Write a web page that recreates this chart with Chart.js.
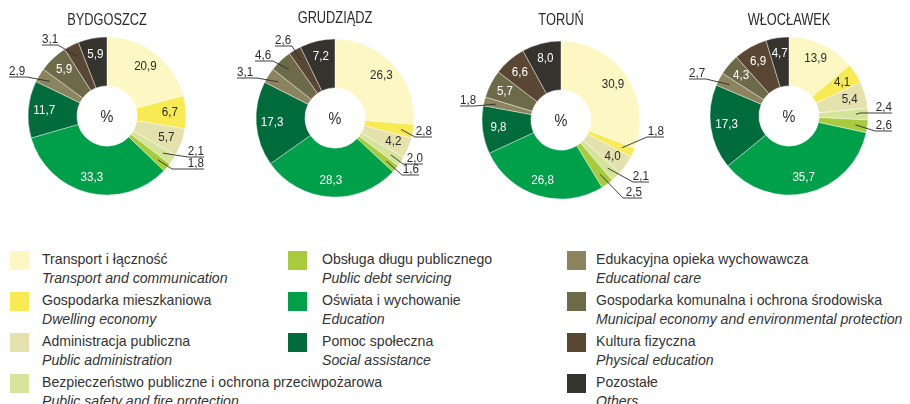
<!DOCTYPE html>
<html>
<head>
<meta charset="utf-8">
<script src="https://cdn.jsdelivr.net/npm/chart.js@4.4.0/dist/chart.umd.min.js"></script>
<style>
  body { margin: 0; width: 910px; height: 404px; overflow: hidden; background: #fff; position: relative;
         font-family: "Liberation Sans", Arial, sans-serif; color: #333; }
  .pie { position: absolute; top: 0; }
  .sw { position: absolute; width: 19px; height: 19px; }
  .lbl { position: absolute; font-size: 15px; line-height: 19px; white-space: nowrap; color: #333;
         transform: scaleX(0.94); transform-origin: 0 0; }
  .lbl i { display: block; }
</style>
</head>
<body>
<script>
const FONT = '"Liberation Sans", Arial, sans-serif';

// wydatki wg działów, %
const categoriesPl = ['Transport i łączność', 'Gospodarka mieszkaniowa', 'Administracja publiczna',
  'Bezpieczeństwo publiczne i ochrona przeciwpożarowa', 'Obsługa długu publicznego', 'Oświata i wychowanie',
  'Pomoc społeczna', 'Edukacyjna opieka wychowawcza', 'Gospodarka komunalna i ochrona środowiska',
  'Kultura fizyczna', 'Pozostałe'];
const categoriesEn = ['Transport and communication', 'Dwelling economy', 'Public administration',
  'Public safety and fire protection', 'Public debt servicing', 'Education', 'Social assistance',
  'Educational care', 'Municipal economy and environmental protection', 'Physical education', 'Others'];
const colors = ['#fdf7c4', '#f7ea52', '#e5e1ad', '#d5e49a', '#a8cb3e', '#009f4a', '#006b3b',
  '#8b845e', '#6c6a48', '#5a4733', '#35332e'];

const cities = ['BYDGOSZCZ', 'GRUDZIĄDZ', 'TORUŃ', 'WŁOCŁAWEK'];
const bydgoszcz = [20.9, 6.7, 5.7, 2.1, 1.8, 33.3, 11.7, 2.9, 5.9, 3.1, 5.9];
const grudziadz = [26.3, 2.8, 4.2, 2.0, 1.6, 28.3, 17.3, 3.1, 4.6, 2.6, 7.2];
const torun     = [30.9, 1.8, 4.0, 2.1, 2.5, 26.8, 9.8, 1.8, 5.7, 6.6, 8.0];
const wloclawek = [13.9, 4.1, 5.4, 2.4, 2.6, 35.7, 17.3, 2.7, 4.3, 6.9, 4.7];

// center of each ring, title baseline, and leader lines for the thin slices:
// index -> [elbow dx, elbow dy, end of underline dx] relative to the center
const pies = [
  { data: bydgoszcz, cx: 107, cy: 116, ty: 25,
    callouts: { 3: [81, 41, 97], 4: [65, 53, 97], 7: [-80, -39, -98], 9: [-49, -71, -65] } },
  { data: grudziadz, cx: 335, cy: 118, ty: 23,
    callouts: { 1: [80, 19, 97], 3: [68, 46, 88], 4: [67, 57, 84], 7: [-78, -40, -98], 8: [-62, -57, -80], 9: [-43, -72, -60] } },
  { data: torun, cx: 561, cy: 120, ty: 25,
    callouts: { 1: [86, 17, 103], 3: [72, 62, 88], 4: [62, 78, 81], 7: [-86, -14, -101] } },
  { data: wloclawek, cx: 789, cy: 116, ty: 25,
    callouts: { 3: [71, -3, 103], 4: [86, 15, 103], 7: [-83, -37, -100] } }
];

const R = 79, HOLE = 30, W = 230, H = 212;

const fmt = v => v.toFixed(1).replace('.', ',');

// condensed-looking text: squeeze horizontally around the anchor
function narrowText(ctx, txt, x, y, align, sx) {
  const w = ctx.measureText(txt).width * sx;
  const left = align === 'center' ? x - w / 2 : align === 'right' ? x - w : x;
  ctx.save();
  ctx.translate(left, y);
  ctx.scale(sx, 1);
  ctx.textAlign = 'left';
  ctx.fillText(txt, 0, 0);
  ctx.restore();
}

const pieLabels = {
  id: 'pieLabels',
  afterDatasetsDraw(chart, args, opts) {
    const ctx = chart.ctx;
    const meta = chart.getDatasetMeta(0);
    const values = chart.data.datasets[0].data;
    const cx = meta.data[0].x, cy = meta.data[0].y;
    ctx.save();
    ctx.fillStyle = '#2b2b2b';
    ctx.textBaseline = 'alphabetic';
    ctx.font = '16px ' + FONT;
    narrowText(ctx, opts.title, cx, opts.ty, 'center', 0.8);
    ctx.font = '17px ' + FONT;
    narrowText(ctx, '%', cx, cy + 6, 'center', 0.85);

    ctx.font = '12.5px ' + FONT;
    meta.data.forEach((arc, i) => {
      const p = arc.getProps(['startAngle', 'endAngle', 'outerRadius'], true);
      const mid = (p.startAngle + p.endAngle) / 2;
      const c = opts.callouts[i];
      if (c) {
        const ar = p.outerRadius - 12;
        const ax = cx + ar * Math.cos(mid), ay = cy + ar * Math.sin(mid);
        const ex = cx + c[0], ey = cy + c[1], x2 = cx + c[2];
        ctx.strokeStyle = '#2b2b2b';
        ctx.lineWidth = 0.9;
        ctx.beginPath();
        ctx.moveTo(ax, ay);
        ctx.lineTo(ex, ey);
        ctx.lineTo(x2, ey);
        ctx.stroke();
        ctx.fillStyle = '#2b2b2b';
        ctx.textBaseline = 'alphabetic';
        narrowText(ctx, fmt(values[i]), x2, ey - 2.5, x2 > ex ? 'right' : 'left', 0.93);
      } else {
        const r = 63;
        ctx.fillStyle = i < 5 ? '#2b2b2b' : '#ffffff';
        ctx.textBaseline = 'middle';
        narrowText(ctx, fmt(values[i]), cx + r * Math.cos(mid), cy + r * Math.sin(mid), 'center', 0.93);
      }
    });
    ctx.restore();
  }
};

pies.forEach((pie, k) => {
  const cv = document.createElement('canvas');
  cv.className = 'pie';
  cv.width = W;
  cv.height = H;
  cv.style.left = (pie.cx - W / 2) + 'px';
  document.body.appendChild(cv);

  new Chart(cv, {
    type: 'doughnut',
    data: {
      labels: categoriesPl,
      datasets: [{
        data: pie.data,
        backgroundColor: colors,
        borderColor: 'rgba(255,255,255,0.7)',
        borderWidth: 0.6,
        radius: R,
        cutout: HOLE
      }]
    },
    options: {
      responsive: false,
      animation: false,
      events: [],
      layout: { padding: { top: pie.cy - R, bottom: H - pie.cy - R, left: W / 2 - R, right: W / 2 - R } },
      plugins: {
        legend: { display: false },
        tooltip: { enabled: false },
        pieLabels: { title: cities[k], ty: pie.ty, callouts: pie.callouts }
      }
    },
    plugins: [pieLabels]
  });
});

// legend in three columns
const legendCols = [
  { sx: 10, tx: 42, items: [0, 1, 2, 3] },
  { sx: 288, tx: 322, items: [4, 5, 6] },
  { sx: 567, tx: 596, items: [7, 8, 9, 10] }
];
legendCols.forEach(col => {
  col.items.forEach((idx, row) => {
    const top = 251 + row * 41;
    const sw = document.createElement('div');
    sw.className = 'sw';
    sw.style.left = col.sx + 'px';
    sw.style.top = top + 'px';
    sw.style.background = colors[idx];
    document.body.appendChild(sw);

    const t = document.createElement('div');
    t.className = 'lbl';
    t.style.left = col.tx + 'px';
    t.style.top = (top - 2) + 'px';
    t.textContent = categoriesPl[idx];
    const en = document.createElement('i');
    en.textContent = categoriesEn[idx];
    t.appendChild(en);
    document.body.appendChild(t);
  });
});
</script>
</body>
</html>
